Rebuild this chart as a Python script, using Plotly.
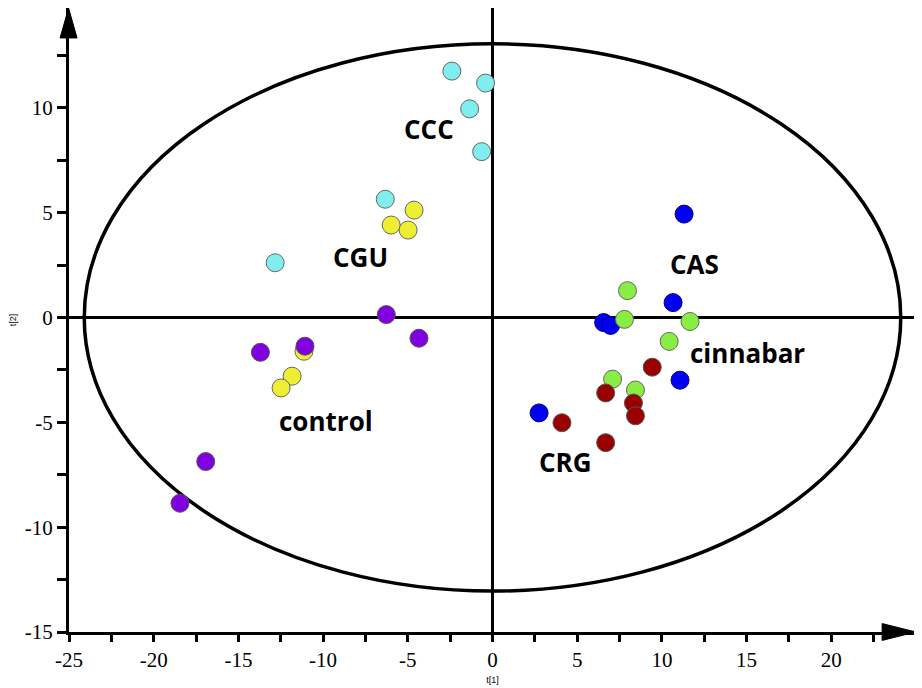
import plotly.graph_objects as go

# PCA score plot, t[1] vs t[2]
ccc_x = [-2.40, -0.41, -1.35, -0.64, -6.33, -12.83]
ccc_y = [11.75, 11.18, 9.95, 7.91, 5.64, 2.61]

yellow_x = [-4.63, -5.98, -4.98, -11.13, -11.83, -12.48]
yellow_y = [5.12, 4.41, 4.17, -1.61, -2.80, -3.36]

purple_x = [-6.27, -4.34, -13.70, -11.07, -16.93, -18.45]
purple_y = [0.14, -0.99, -1.66, -1.37, -6.87, -8.86]

blue_x = [11.31, 10.66, 6.56, 6.97, 11.07, 2.75]
blue_y = [4.93, 0.71, -0.24, -0.38, -2.99, -4.55]

green_x = [7.97, 7.79, 11.66, 10.43, 7.09, 8.44]
green_y = [1.28, -0.09, -0.19, -1.14, -2.94, -3.46]

red_x = [9.43, 6.68, 8.32, 8.44, 4.10, 6.68]
red_y = [-2.37, -3.60, -4.08, -4.69, -5.02, -5.97]

# Hotelling T2 ellipse semi-axes
ell_a = 24.1
ell_b = 13.05

x_ticks = [-25, -20, -15, -10, -5, 0, 5, 10, 15, 20]
x_labels = ['-25', '-20', '-15', '-10', '-5', '0', '5', '10', '15', '20']
y_ticks = [-15, -10, -5, 0, 5, 10]
y_labels = ['-15', '-10', '-5', '0', '5', '10']

fig = go.Figure()

series = [
    (ccc_x, ccc_y, '#80EEEE', '#666666'),
    (yellow_x, yellow_y, '#EEEE33', '#666666'),
    (purple_x, purple_y, '#8000E0', '#555555'),
    (blue_x, blue_y, '#0000EE', '#000088'),
    (green_x, green_y, '#88EE44', '#666666'),
    (red_x, red_y, '#990000', '#555555'),
]
for xs, ys, col, edge in series:
    fig.add_trace(go.Scatter(
        x=xs, y=ys, mode='markers',
        marker=dict(size=18, color=col, line=dict(color=edge, width=1)),
        showlegend=False, hoverinfo='skip'
    ))

# ellipse
fig.add_shape(type='circle', xref='x', yref='y',
              x0=-ell_a, x1=ell_a, y0=-ell_b, y1=ell_b,
              line=dict(color='black', width=3.5), layer='below')

# arrow heads on the axes (paper coords)
fig.add_shape(type='path', xref='paper', yref='paper',
              path='M -0.0105 0.952 L 0.0095 0.952 L -0.0005 1.0 Z',
              fillcolor='black', line=dict(color='black', width=1))
fig.add_shape(type='path', xref='paper', yref='paper',
              path='M 0.96 -0.0135 L 0.96 0.0135 L 1.0 0 Z',
              fillcolor='black', line=dict(color='black', width=1))

# group labels
labels = [
    ('CCC', -3.75, 9.0),
    ('CGU', -7.8, 2.9),
    ('control', -9.85, -4.95),
    ('CAS', 11.9, 2.55),
    ('cinnabar', 15.05, -1.7),
    ('CRG', 4.33, -6.9),
]
for txt, lx, ly in labels:
    fig.add_annotation(x=lx, y=ly, text='<b>' + txt + '</b>', showarrow=False,
                       font=dict(family='Open Sans', size=26, color='black'))

tick_font = dict(family='Liberation Serif', size=21, color='black')
fig.update_xaxes(
    range=[-25, 25], tickvals=x_ticks, ticktext=x_labels,
    showline=True, linewidth=3, linecolor='black',
    ticks='outside', ticklen=7, tickwidth=3, tickcolor='black',
    minor=dict(dtick=2.5, tick0=0, ticks='outside', ticklen=7, tickwidth=3, tickcolor='black'),
    showgrid=False, zeroline=True, zerolinewidth=3, zerolinecolor='black',
    tickfont=tick_font,
    title=dict(text='t[1]', font=dict(family='Liberation Sans', size=9, color='black'), standoff=6)
)
fig.update_yaxes(
    range=[-15, 14.76], tickvals=y_ticks, ticktext=y_labels,
    showline=True, linewidth=3, linecolor='black',
    ticks='outside', ticklen=9, tickwidth=3, tickcolor='black',
    minor=dict(dtick=2.5, tick0=0, ticks='outside', ticklen=9, tickwidth=3, tickcolor='black'),
    showgrid=False, zeroline=True, zerolinewidth=3, zerolinecolor='black',
    tickfont=tick_font,
    title=dict(text='t[2]', font=dict(family='Liberation Sans', size=9, color='black'), standoff=10)
)

fig.update_layout(
    width=914, height=680,
    margin=dict(l=54, r=6, t=0, b=56),
    plot_bgcolor='white', paper_bgcolor='white'
)

fig.write_html('out.html')
